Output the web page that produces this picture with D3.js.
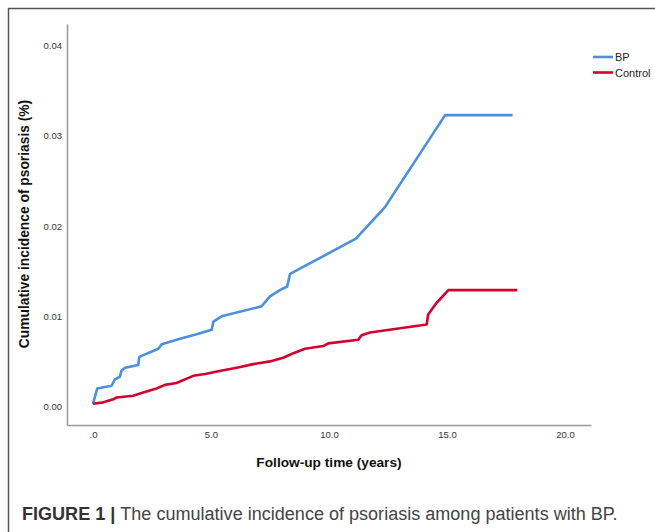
<!DOCTYPE html>
<html>
<head>
<meta charset="utf-8">
<script src="https://cdn.jsdelivr.net/npm/d3@7"></script>
<style>
  body { margin: 0; background: #fff; }
  text { font-family: "Liberation Sans", Arial, sans-serif; }
</style>
</head>
<body>
<div id="chart"></div>
<script>
// follow-up years and cumulative incidence
var bpYears = [0, 0.18, 0.79, 0.93, 1.14, 1.21, 1.36, 1.92, 1.96, 2.77, 2.91, 3.69, 4.39, 5.03, 5.1, 5.45,
  7.14, 7.5, 7.92, 8.23, 8.35, 11.14, 12.37, 14.92, 17.78]
var bpValues = [0.0003, 0.0020, 0.0023, 0.0030, 0.0033, 0.0040, 0.0043, 0.0046, 0.0055, 0.0064, 0.0069, 0.0075, 0.0080, 0.0085, 0.0094, 0.0100,
  0.0111, 0.0122, 0.0129, 0.0133, 0.0147, 0.0186, 0.0221, 0.0323, 0.0323]

var controlYears = [0, 0.44, 0.86, 1.0, 1.71, 2.06, 2.69, 3.05, 3.54, 4.25, 4.75, 5.31, 6.09, 6.79, 7.5, 8.06,
  8.49, 8.98, 9.76, 9.97, 11.24, 11.38, 11.74, 14.14, 14.2, 14.56, 15.06, 17.98]
var controlValues = [0.0003, 0.00046, 0.0008, 0.0010, 0.0012, 0.0015, 0.0020, 0.0024, 0.0026, 0.0034, 0.0036, 0.0039, 0.0043, 0.0047, 0.0050, 0.0054,
  0.0059, 0.0064, 0.0067, 0.0070, 0.0074, 0.0079, 0.0082, 0.0091, 0.0102, 0.0115, 0.0129, 0.0129]

var seriesNames = ["BP", "Control"]
var seriesColors = ["#4a90e2", "#d4002f"]
var xTicks = [0, 5, 10, 15, 20]
var yTicks = [0, 0.01, 0.02, 0.03, 0.04]

var width = 655, height = 532

var svg = d3.select("#chart").append("svg")
  .attr("width", width)
  .attr("height", height)

// outer frame (top and left edges only, like the source)
svg.append("path")
  .attr("d", "M8.5,532 V8.5 H655")
  .attr("fill", "none")
  .attr("stroke", "#555")
  .attr("stroke-width", 1.5)

var xScale = d3.scaleLinear().domain([-1.1, 21.1]).range([67, 591])
var yScale = d3.scaleLinear().domain([-0.00205, 0.0424]).range([425, 24])

// axes: plain grey lines, no tick marks
var xAxis = d3.axisBottom(xScale)
  .tickValues(xTicks)
  .tickSize(0)
  .tickPadding(6)
  .tickFormat(function(d) { return d === 0 ? ".0" : d3.format(".1f")(d) })

svg.append("g")
  .attr("class", "axis x-axis")
  .attr("transform", "translate(0,425)")
  .call(xAxis)

var yAxis = d3.axisLeft(yScale)
  .tickValues(yTicks)
  .tickSize(0)
  .tickPadding(5)
  .tickFormat(function(d) { return d === 0 ? "0.00" : d3.format(".2f")(d) })

svg.append("g")
  .attr("class", "axis y-axis")
  .attr("transform", "translate(67,0)")
  .call(yAxis)

svg.selectAll(".axis .domain")
  .attr("stroke", "#999")
  .attr("stroke-width", 1.5)
svg.selectAll(".axis text")
  .attr("font-size", 9.5)
  .attr("fill", "#333")
  .attr("font-family", "Liberation Sans, Arial, sans-serif")

// axis titles
svg.append("text")
  .attr("x", 329)
  .attr("y", 467)
  .attr("text-anchor", "middle")
  .attr("font-size", 13.7)
  .attr("font-weight", "bold")
  .attr("fill", "#111")
  .text("Follow-up time (years)")

svg.append("text")
  .attr("transform", "translate(29,224) rotate(-90)")
  .attr("text-anchor", "middle")
  .attr("font-size", 13.8)
  .attr("font-weight", "bold")
  .attr("fill", "#111")
  .text("Cumulative incidence of psoriasis (%)")

// curves
var line = d3.line()
  .x(function(d) { return xScale(d[0]) })
  .y(function(d) { return yScale(d[1]) })

var series = [
  d3.zip(bpYears, bpValues),
  d3.zip(controlYears, controlValues)
]

svg.selectAll(".curve")
  .data(series)
  .enter().append("path")
  .attr("class", "curve")
  .attr("d", line)
  .attr("fill", "none")
  .attr("stroke", function(d, i) { return seriesColors[i] })
  .attr("stroke-width", 2.6)
  .attr("stroke-linejoin", "round")

// legend
var legend = svg.selectAll(".legend")
  .data(seriesNames)
  .enter().append("g")
  .attr("class", "legend")
  .attr("transform", function(d, i) { return "translate(593," + (57 + i * 15.5) + ")" })

legend.append("line")
  .attr("x1", 0).attr("x2", 20)
  .attr("stroke", function(d, i) { return seriesColors[i] })
  .attr("stroke-width", 2.6)

legend.append("text")
  .attr("x", 22)
  .attr("y", 4)
  .attr("font-size", 11)
  .attr("fill", "#222")
  .text(function(d) { return d })

// caption
var caption = svg.append("text")
  .attr("x", 22)
  .attr("y", 520)
  .attr("font-size", 19)
  .attr("fill", "#333")

caption.append("tspan")
  .attr("font-weight", "bold")
  .text("FIGURE 1 | ")
caption.append("tspan")
  .attr("fill", "#444")
  .text("The cumulative incidence of psoriasis among patients with BP.")

// squeeze the caption to the width it has in the figure
var w = caption.node().getComputedTextLength()
caption.attr("font-size", 19 * 596 / w)
</script>
</body>
</html>
